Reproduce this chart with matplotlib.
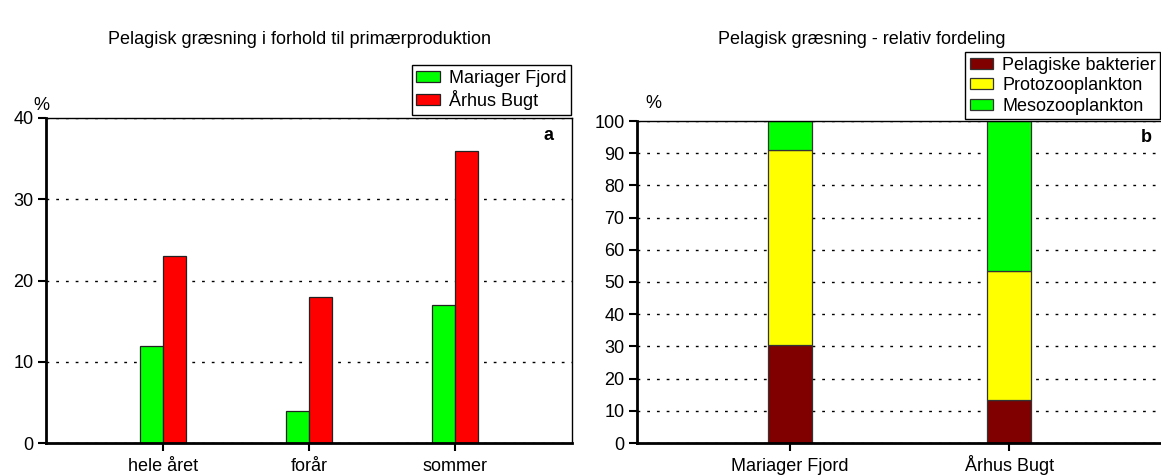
import numpy as np
import matplotlib.pyplot as plt

plt.rcParams['font.family'] = ['Liberation Sans', 'DejaVu Sans']
plt.rcParams['font.size'] = 13

# panel a
seasons = ['hele året', 'forår', 'sommer']
mariager = [12, 4, 17]
aarhus = [23, 18, 36]

# panel b
sites = ['Mariager Fjord', 'Århus Bugt']
bakterier = [30.5, 13.5]
proto = [60.5, 40.0]
meso = [9.0, 46.5]

W, H = 1161, 475
fig = plt.figure(figsize=(W / 100, H / 100), dpi=100)

def style(ax):
    ax.spines['left'].set_linewidth(2)
    ax.spines['bottom'].set_linewidth(2)
    ax.spines['top'].set_linewidth(1)
    ax.spines['right'].set_linewidth(1)
    ax.tick_params(axis='both', direction='out', length=6, width=1.5, labelsize=13, pad=3)
    ax.tick_params(axis='x', pad=14)
    for lab in ax.get_xticklabels():
        lab.set_verticalalignment('baseline')
    ax.yaxis.grid(True, color='black', linestyle=(0, (2, 5)), linewidth=1)
    ax.set_axisbelow(True)

leg_kw = dict(frameon=True, fancybox=False, edgecolor='black', framealpha=1, fontsize=13,
              handlelength=1.3, handleheight=0.55, borderpad=0.25, labelspacing=0.2,
              handletextpad=0.5, borderaxespad=0)

# ---- a ----
ax1 = fig.add_axes([46 / W, 1 - 443 / H, 526 / W, 325 / H])
x = np.arange(len(seasons))
w = 0.155
ax1.bar(x - w / 2, mariager, w, color='#00ff00', edgecolor='#222222', linewidth=0.9, label='Mariager Fjord')
ax1.bar(x + w / 2, aarhus, w, color='#ff0000', edgecolor='#222222', linewidth=0.9, label='Århus Bugt')
ax1.set_xlim(-0.8, 2.8)
ax1.set_ylim(0, 40)
ax1.set_yticks([0, 10, 20, 30, 40])
ax1.set_xticks(x)
ax1.set_xticklabels(seasons)
style(ax1)
fig.text(553 / W, 1 - 136 / H, 'a', ha='right', va='center', fontweight='bold', fontsize=13)
fig.text(33 / W, 1 - 106 / H, '%', ha='left', va='center', fontsize=13)
ax1.legend(loc='upper right', bbox_to_anchor=(571 / W, 1 - 65 / H), bbox_transform=fig.transFigure, **leg_kw)
fig.text(300 / W, 1 - 40 / H, 'Pelagisk græsning i forhold til primærproduktion', ha='center', va='center', fontsize=13)

# ---- b ----
ax2 = fig.add_axes([637 / W, 1 - 443 / H, 526 / W, 322 / H])
x2 = np.arange(len(sites))
w2 = 0.2
ax2.bar(x2, bakterier, w2, color='#800000', edgecolor='#333333', linewidth=0.9, label='Pelagiske bakterier')
ax2.bar(x2, proto, w2, bottom=bakterier, color='#ffff00', edgecolor='#333333', linewidth=0.9, label='Protozooplankton')
ax2.bar(x2, meso, w2, bottom=np.array(bakterier) + np.array(proto), color='#00ff00', edgecolor='#333333',
        linewidth=0.9, label='Mesozooplankton')
ax2.set_xlim(-0.695, 1.7)
ax2.set_ylim(0, 100)
ax2.set_yticks(range(0, 101, 10))
ax2.set_xticks(x2)
ax2.set_xticklabels(sites)
style(ax2)
fig.text(1152 / W, 1 - 137 / H, 'b', ha='right', va='center', fontweight='bold', fontsize=13)
fig.text(645 / W, 1 - 104 / H, '%', ha='left', va='center', fontsize=13)
ax2.legend(loc='upper left', bbox_to_anchor=(965 / W, 1 - 52 / H), bbox_transform=fig.transFigure, **leg_kw)
fig.text(862 / W, 1 - 40 / H, 'Pelagisk græsning - relativ fordeling', ha='center', va='center', fontsize=13)

fig.savefig('out.png', dpi=100)
